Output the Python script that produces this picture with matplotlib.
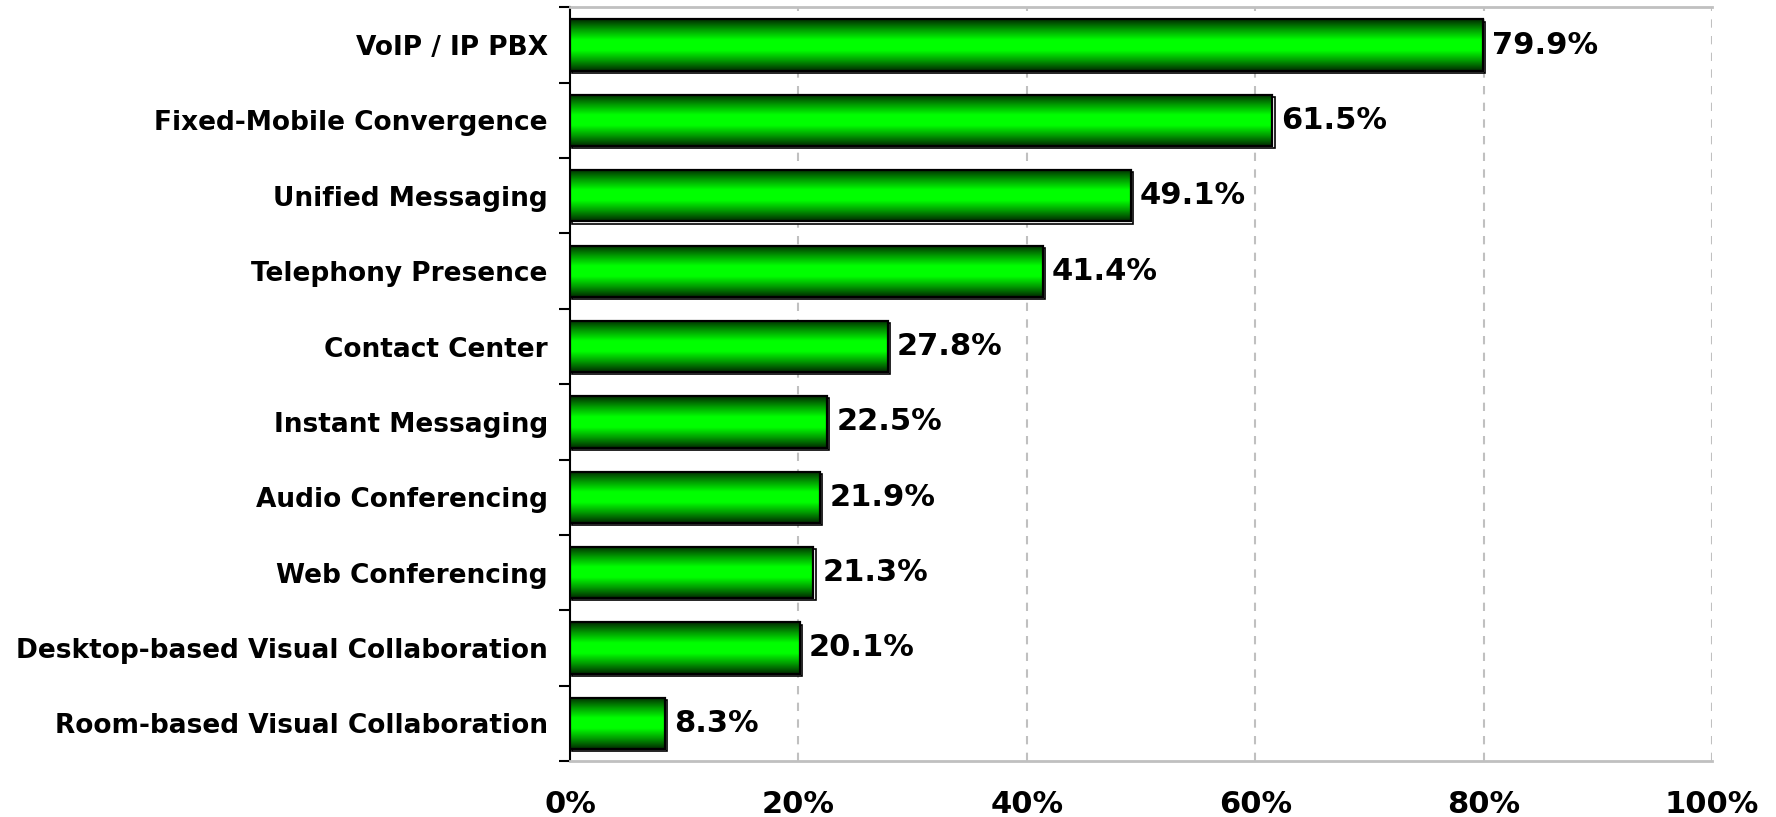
import numpy as np
import matplotlib
matplotlib.use("Agg")
import matplotlib.pyplot as plt
from matplotlib.colors import LinearSegmentedColormap
from matplotlib.ticker import FixedLocator, PercentFormatter
import matplotlib.transforms as mtransforms

categories = [
    "VoIP / IP PBX",
    "Fixed-Mobile Convergence",
    "Unified Messaging",
    "Telephony Presence",
    "Contact Center",
    "Instant Messaging",
    "Audio Conferencing",
    "Web Conferencing",
    "Desktop-based Visual Collaboration",
    "Room-based Visual Collaboration",
]
values = [79.9, 61.5, 49.1, 41.4, 27.8, 22.5, 21.9, 21.3, 20.1, 8.3]
x_ticks = [0, 20, 40, 60, 80, 100]

plt.rcParams['font.family'] = ['DejaVu Sans']
plt.rcParams['font.weight'] = 'bold'

fig = plt.figure(figsize=(17.76, 8.17), dpi=100)
ax = fig.add_axes([0.321, 0.0685, 0.643, 0.9225])

n = len(categories)
ypos = np.arange(n)[::-1]
bar_h = 0.68

# dark edges, bright green in the middle
green = LinearSegmentedColormap.from_list(
    "bar_green", ["#002a00", "#009a00", "#00ff00", "#00ff00", "#009a00", "#002a00"])
grad = np.linspace(0, 1, 256).reshape(-1, 1)

shadow_tr = mtransforms.offset_copy(ax.transData, fig=fig, x=1.6, y=-1.6, units='points')

for y, v in zip(ypos, values):
    # drop shadow behind the bar
    ax.barh(y, v, height=bar_h, left=0, color='white', edgecolor='black',
            linewidth=1.2, transform=shadow_tr, zorder=2)
    bar = ax.barh(y, v, height=bar_h, left=0, color='none', edgecolor='black',
                  linewidth=1.6, zorder=4)[0]
    im = ax.imshow(grad, cmap=green, aspect='auto', interpolation='bilinear',
                   extent=[0, v, y - bar_h / 2, y + bar_h / 2], zorder=3)
    im.set_clip_path(bar)
    ax.text(v + 0.8, y, f"{v:.1f}%", va='center', ha='left',
            fontsize=22, fontweight='bold', color='black', zorder=5)

ax.set_xlim(0, 100)
ax.set_ylim(-0.5, n - 0.5)

ax.set_xticks(x_ticks)
ax.xaxis.set_major_formatter(PercentFormatter(decimals=0))
ax.tick_params(axis='x', length=0, pad=21, labelsize=22)
for lbl in ax.get_xticklabels():
    lbl.set_fontweight('bold')

ax.set_yticks(ypos)
ax.set_yticklabels(categories, fontsize=19, fontweight='bold')
ax.tick_params(axis='y', which='major', length=0, pad=16)
ax.yaxis.set_minor_locator(FixedLocator(np.arange(-0.5, n, 1.0)))
ax.tick_params(axis='y', which='minor', length=8, width=1.5, color='black')

ax.grid(axis='x', color='#c0c0c0', linestyle=(0, (4, 4)), linewidth=1.5, zorder=1)
ax.set_axisbelow(True)

ax.spines['left'].set_color('black')
ax.spines['left'].set_linewidth(1.5)
ax.spines['bottom'].set_color('#c0c0c0')
ax.spines['bottom'].set_linewidth(2)
ax.spines['top'].set_color('#c0c0c0')
ax.spines['top'].set_linewidth(2)
ax.spines['right'].set_visible(False)

fig.savefig("out.png", dpi=100, facecolor='white')
